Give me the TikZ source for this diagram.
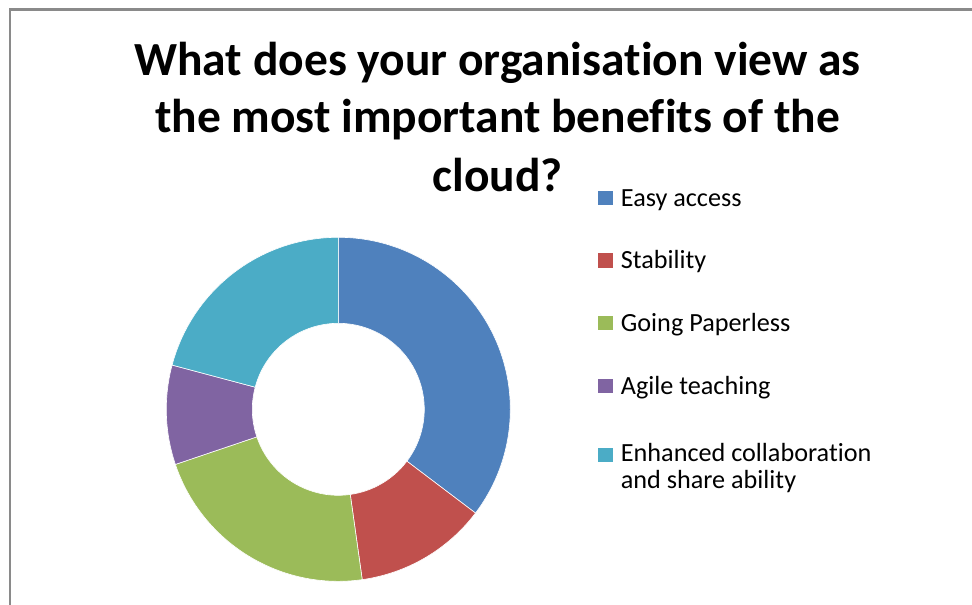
\documentclass[tikz,border=0pt]{standalone}
\usepackage{fontspec}
\setmainfont{Carlito}[Ligatures=NoCommon]
\definecolor{cEasy}{HTML}{4F81BD}
\definecolor{cStab}{HTML}{C0504D}
\definecolor{cPaper}{HTML}{9BBB59}
\definecolor{cAgile}{HTML}{8064A2}
\definecolor{cEnh}{HTML}{4BACC6}
\definecolor{frameGray}{HTML}{8A8A8A}
\tikzset{
  titletext/.style={anchor=base, inner sep=0pt, font=\fontsize{47.5}{58}\selectfont\bfseries},
  legtext/.style={anchor=base west, inner sep=0pt, font=\fontsize{26.2}{29}\selectfont},
  legkey/.style={minimum size=14.5pt, inner sep=0pt, anchor=north west},
  sep/.style={draw=white, line width=0.6pt},
}
\newcommand{\donutslice}[3]{%
  \fill[#3, sep] ([shift={(#1:172)}]c) arc[start angle=#1, end angle=#2, radius=172]
    -- ([shift={(#2:86)}]c) arc[start angle=#2, end angle=#1, radius=86] -- cycle;}
\begin{document}
\begin{tikzpicture}[x=1pt,y=1pt]
\useasboundingbox (0,0) rectangle (972,-605);
\clip (0,0) rectangle (972,-605);
\fill[white] (0,0) rectangle (972,-605);
\draw[frameGray, line width=2.2pt] (10,-9.5) rectangle (990,-620);
% title
\node[titletext] (t1) at (497.5,-75) {What does your organisation view as};
\node[titletext] (t2) at (497.5,-132) {the most important benefits of the};
\node[titletext] (t3) at (497.5,-191.5) {cloud?};
% donut
\coordinate (c) at (338.3,-409.3);
\donutslice{90}{-37.1}{cEasy}
\donutslice{-37.1}{-82.0}{cStab}
\donutslice{-82.0}{-161.3}{cPaper}
\donutslice{-161.3}{-194.9}{cAgile}
\donutslice{-194.9}{-270}{cEnh}
% legend
\node[legkey, fill=cEasy] (k1) at (598,-190.3) {};
\node[legtext] (l1) at (620.7,-206) {Easy access};
\node[legkey, fill=cStab] (k2) at (598,-253) {};
\node[legtext] (l2) at (620.7,-268.8) {Stability};
\node[legkey, fill=cPaper] (k3) at (598,-315.7) {};
\node[legtext] (l3) at (620.7,-331.3) {Going Paperless};
\node[legkey, fill=cAgile] (k4) at (598,-378.7) {};
\node[legtext] (l4) at (620.7,-394.2) {Agile teaching};
\node[legkey, fill=cEnh] (k5) at (598,-447.5) {};
\node[legtext] (l5a) at (620.7,-461) {Enhanced collaboration};
\node[legtext] (l5b) at (620.7,-488) {and share ability};
\end{tikzpicture}
\end{document}
